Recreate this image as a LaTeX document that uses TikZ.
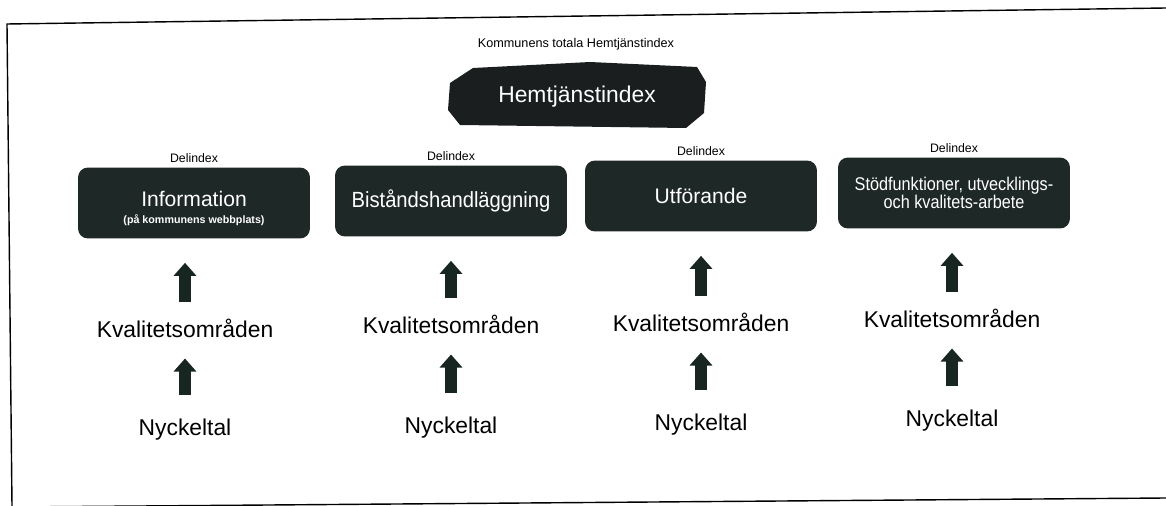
\documentclass[tikz,border=0pt]{standalone}
\usepackage{fontspec}
\setmainfont{Liberation Sans}
\usetikzlibrary{arrows.meta,positioning}
\definecolor{boxdark}{RGB}{30,40,38}
\definecolor{arrdark}{RGB}{24,38,34}
\definecolor{hexdark}{RGB}{26,30,30}
\tikzset{
  delbox/.style={fill=boxdark, text=white, rounded corners=0.2cm, minimum width=4.64cm,
    minimum height=1.42cm, align=center, inner sep=0pt},
  delidx/.style={font=\fontsize{7}{8}\selectfont, inner sep=0pt},
  lvl/.style={font=\fontsize{13}{15}\selectfont, inner sep=0pt, text height=9.3pt, text depth=0pt},
  uparr/.style={draw=arrdark, line width=0.24cm, -{Triangle[width=0.44cm,length=0.26cm]}}
}
\begin{document}
\begin{tikzpicture}[x=0.02cm,y=-0.02cm]
    \useasboundingbox (0,0) rectangle (1166,506);
    \draw [line width=0.8pt] (1166,8) -- (7,24) -- (12,506);
    \draw [line width=0.8pt] (12,507) -- (1166,498);

    \fill [hexdark] (473,68) -- (590,62) -- (697,67) -- (706,82) -- (704,113)
        -- (686,128) -- (460,125) -- (448,110) -- (450,83) -- cycle;
    \node [text=white, font=\fontsize{13}{15}\selectfont] (hem) at (577,97) {Hemtjänstindex};
    \node [font=\fontsize{7.2}{8}\selectfont] (tot) at (576,44) {Kommunens totala Hemtjänstindex};

    \node [delbox, font=\fontsize{12}{10}\selectfont] (box1) at (194,203)
        {\rule{0pt}{15pt}Information\\{\bfseries\fontsize{6.1}{7}\selectfont (på kommunens webbplats)}};
    \node [delbox, font=\fontsize{12.5}{14}\selectfont] (box2) at (451,201)
        {\scalebox{0.92}[1]{Biståndshandläggning}};
    \node [delbox, font=\fontsize{12}{13}\selectfont] (box3) at (701,196) {Utförande};
    \node [delbox, font=\fontsize{10.5}{10.5}\selectfont] (box4) at (954,193)
        {\scalebox{0.88}[1]{Stödfunktioner, utvecklings-}\\\scalebox{0.88}[1]{och kvalitets-arbete}};

    \foreach \i in {1,...,4}
        {\node [delidx, above=0.08cm of box\i] (del\i) {Delindex};}

    \foreach \i/\x/\k/\n in {1/185/329/427, 2/451/325/425, 3/701/323/422, 4/952/319/418}
    {
        \node [lvl] (kval\i) at (\x,\k) {Kvalitetsområden};
        \node [lvl] (nyck\i) at (\x,\n) {Nyckeltal};
        \draw [uparr, shorten <=0.36cm, shorten >=0.48cm] (kval\i.north) -- (kval\i.north |- box\i.south);
        \draw [uparr, shorten <=0.46cm, shorten >=0.42cm] (nyck\i.north) -- (nyck\i.north |- kval\i.south);
    }
\end{tikzpicture}
\end{document}
